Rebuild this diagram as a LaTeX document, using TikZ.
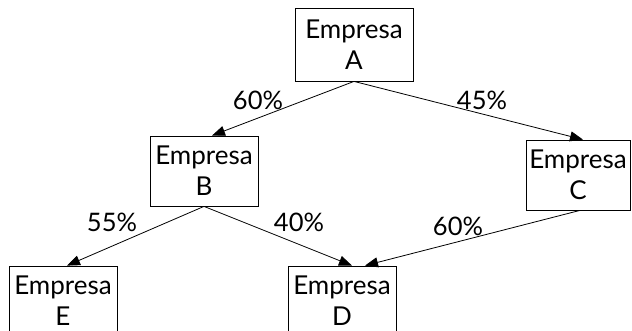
\documentclass[tikz,border=0pt]{standalone}
\usepackage{fontspec}
\setmainfont{Lato}
\usetikzlibrary{arrows.meta}

\tikzstyle{emp} = [draw, line width=0.8pt, minimum width=108pt, minimum height=70pt, align=center, inner sep=0pt, font=\fontsize{26}{31}\selectfont]
\tikzstyle{pct} = [font=\fontsize{25.5}{30}\selectfont, inner sep=0pt]
\tikzstyle{arr} = [-{Triangle[length=13pt,width=10pt]}, line width=0.8pt]

\begin{document}
\begin{tikzpicture}[x=1pt, y=-1pt]
    \clip (0,0) rectangle (632,331);
    \node[emp, minimum width=118pt, minimum height=73pt] (A) at (354, 44.5) {Empresa\\A};
    \node[emp] (B) at (204, 171) {Empresa\\B};
    \node[emp, minimum width=104pt] (C) at (578, 175) {Empresa\\C};
    \node[emp] (E) at (63, 301) {Empresa\\E};
    \node[emp] (D) at (342, 301) {Empresa\\D};
    \node[pct] (PAB) at (258, 100) {60\%};
    \node[pct] (PAC) at (482, 100) {45\%};
    \node[pct] (PBE) at (112, 222) {55\%};
    \node[pct] (PBD) at (299, 222) {40\%};
    \node[pct] (PCD) at (458, 226) {60\%};
    \draw[arr] (A.south) -- ([xshift=8pt]B.north);
    \draw[arr] (A.south) -- ([xshift=5pt]C.north);
    \draw[arr] (B.south) -- ([xshift=4pt]E.north);
    \draw[arr] (B.south) -- ([xshift=10pt]D.north);
    \draw[arr] ([xshift=2pt]C.south) -- ([xshift=23pt]D.north);
\end{tikzpicture}
\end{document}
